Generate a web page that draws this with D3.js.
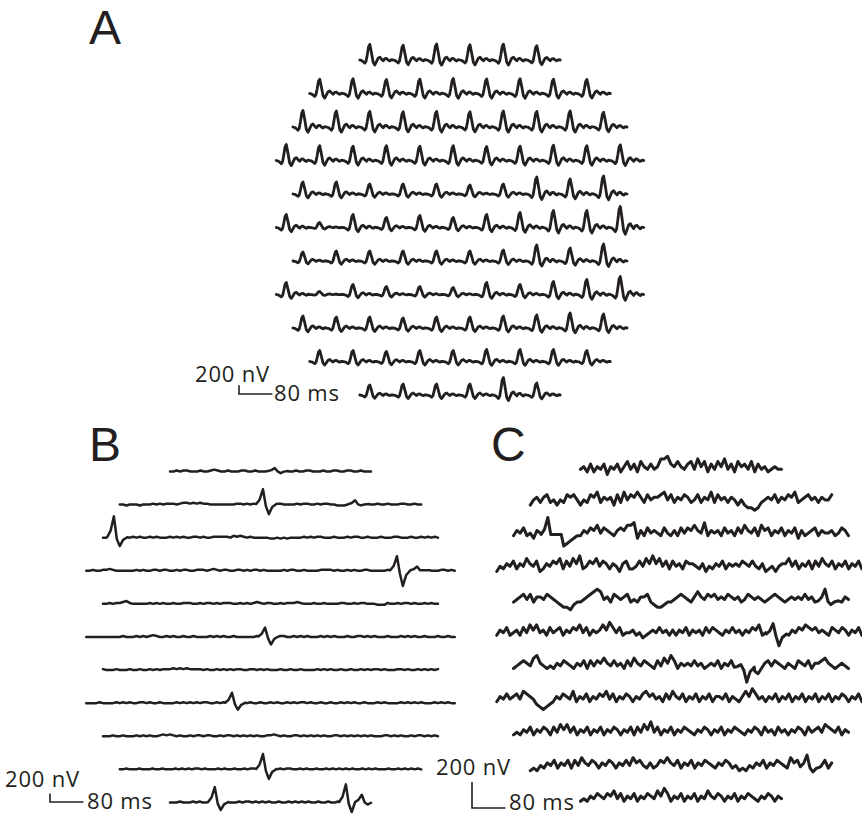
<!DOCTYPE html>
<html>
<head>
<meta charset="utf-8">
<script src="https://cdn.jsdelivr.net/npm/d3@7"></script>
<style>
  body { margin: 0; background: #fff; }
  svg text { font-family: "Open Sans", "Noto Sans", sans-serif; fill: #231f20; }
</style>
</head>
<body>
<svg id="chart" width="862" height="815"></svg>
<script>
// ---- Stimulus layout: 103 hexagons, 11 rows ----
const hexCounts = [6, 9, 10, 11, 10, 11, 10, 11, 10, 9, 6];
const hexDurationMs = 80;

// ---- Panel A: averaged first-order response per hexagon ----
const responseTimesMs = [0, 4, 8, 12, 15, 18, 21, 24, 28, 32, 36, 40, 44, 48, 52, 56, 60, 64, 68, 72, 76, 80];
const responseShape   = [0, -0.03, -0.1, -0.2, -0.08, 0.35, 0.85, 1.0, 0.45, -0.15, -0.32, -0.1, 0.12, 0.18, 0.05, -0.05, 0.08, 0.1, 0.0, -0.06, 0.02, 0];
// P1 amplitude (nV) of each hexagon, row by row
const p1AmplitudeA = [
  [360, 340, 370, 350, 365, 330],
  [330, 340, 320, 330, 345, 335, 340, 330, 325],
  [380, 370, 360, 350, 360, 350, 370, 360, 370, 340],
  [370, 340, 330, 340, 330, 340, 320, 330, 350, 340, 360],
  [276, 276, 230, 230, 230, 207, 230, 391, 345, 414],
  [300, 115, 300, 230, 276, 230, 300, 345, 391, 391, 483],
  [207, 230, 230, 230, 230, 230, 253, 368, 300, 391],
  [276, 70, 230, 184, 184, 161, 276, 230, 300, 345, 414],
  [276, 253, 253, 230, 253, 253, 276, 300, 345, 322],
  [253, 253, 230, 253, 253, 276, 276, 276, 253],
  [230, 253, 253, 253, 400, 276]
];

// ---- Panels B and C: baseline level per sample (digit d -> (d - 4.5) * step nV) ----
const noiseStepB = 22;
const noiseB = [
  "445455444544565445444554454445545654454455444544554455445444",
  "4434443444545455545665656554444444455454545544555444454554454554433343443444454454445544544",
  "44544454454544545444545454455454455555465654544444334343444454545544454445455445444544455444544545454",
  "445445565444444545445545544545544555456545544554545545444445455445444455554544545445544444545454454455544455454",
  "44545567544444545454454455544545545455544545456545544545556544454454444554454554443335445455454454544",
  "444444444445444545456544545445445444454545445444444545445455445454544454545444544554545444544454545445444544544",
  "54445444544544545455565656555545445454545544554545444544544544445454544544544545455454445545445454545",
  "444454444545454455454454444545454545544545444545454454454544545455454454454454545445444545444454545454445454544",
  "44454454445454544565654544545545544545545454545445565454455454545454455454545454544455454544545545454",
  "445444544454454445454545545444545445445455454545454554454544544545454545445454544454454545454",
  "44454445454445454544454554545454454454545454454454454544545445"
];
const noiseStepC = 20;
const noiseC = [
  "4536354625463574637546458896575467485736475846375647364534544",
  "3564674535476753547684656374857686475667857465764574658475646535322124565746576845675646557",
  "46574536585201101234465768576546768893647565475464757686594656475647586574867465746573645674655645764",
  "3546574658657346576847586945768576465367445758696857475647665463546574656576575463453566857465747586574657465747",
  "45675746657654322134456789856476567454667432234456765468657675657656457656545676545656575646556546465",
  "4657456475868564756746576857465686975745564534565756464657465647576546575646576845665435465768767565476576465746",
  "45676589654546576546574757686575647586576547586974656575645657465746565432467576546547657466786545654",
  "4657567587653212346576584657465768574657646578675647586574657465746657465468697564657465746574657465746576465746",
  "45465746576475868574657465746576465747586957465746576546576465746576546576475647564657647567587657465",
  "34354657465747586576465764657586754645768657465746576546576453435465746576548675657465746",
  "4546576576857465746576586974657465746586576465746576546576465"
];

// ---- Focal responses: peak time (ms from row start), upward and downward deflection (nV) ----
const spikeTimesMs   = [-16, -8, 0, 7, 14, 22, 32];
const spikeUpShape   = [0, 0.3, 1, 0, 0, 0, 0];
const spikeDownShape = [0, 0, 0, -0.2, -1, -0.3, 0];
const spikesB = [
  { row: 0, t: 250, up: 70, down: 50 },
  { row: 1, t: 342, up: 350, down: 235 },
  { row: 1, t: 562, up: 90, down: 30 },
  { row: 2, t: 26, up: 490, down: 210 },
  { row: 3, t: 742, up: 330, down: 370 },
  { row: 3, t: 790, up: 90, down: 0 },
  { row: 5, t: 427, up: 210, down: 190 },
  { row: 7, t: 348, up: 235, down: 165 },
  { row: 9, t: 342, up: 350, down: 235 },
  { row: 10, t: 107, up: 350, down: 190 },
  { row: 10, t: 420, up: 415, down: 235 },
  { row: 10, t: 458, up: 170, down: 60 }
];
const spikesC = [
  { row: 2, t: 82, up: 130, down: 0 },
  { row: 4, t: 744, up: 90, down: 30 },
  { row: 5, t: 660, up: 80, down: 90 },
  { row: 6, t: 543, up: 20, down: 115 },
  { row: 9, t: 661, up: 90, down: 40 }
];

// ---- Drawing ----
const ink = "#231f20";
const svg = d3.select("#chart");

const panels = {
  A: { cx: 460, y0: 60, dy: 33.5, px80: 33.4, px200: 8.7, stroke: 2.8 },
  B: { cx: 270.5, y0: 471, dy: 33.1, px80: 33.5, px200: 8.5, stroke: 2.5 },
  C: { cx: 681, y0: 468, dy: 33.2, px80: 33.5, px200: 26, stroke: 3.0 }
};

function rowScales(p, r) {
  const n = hexCounts[r];
  const dur = n * hexDurationMs;
  const half = n * p.px80 / 2;
  const x = d3.scaleLinear().domain([0, dur]).range([p.cx - half, p.cx + half]);
  const yBase = p.y0 + r * p.dy;
  const y = d3.scaleLinear().domain([0, 200]).range([yBase, yBase - p.px200]);
  return { x, y, dur };
}

function drawRow(g, p, r, pts) {
  const s = rowScales(p, r);
  const line = d3.line().x(d => s.x(d.t)).y(d => s.y(d.v));
  g.append("path")
    .attr("d", line(pts))
    .attr("fill", "none")
    .attr("stroke", ink)
    .attr("stroke-width", p.stroke)
    .attr("stroke-linejoin", "round")
    .attr("stroke-linecap", "round");
}

// Panel A traces
const gA = svg.append("g");
hexCounts.forEach((n, r) => {
  const pts = [];
  for (let k = 0; k < n; k++) {
    responseTimesMs.forEach((tm, j) => {
      if (j === responseTimesMs.length - 1 && k < n - 1) return;
      pts.push({ t: k * hexDurationMs + tm, v: p1AmplitudeA[r][k] * responseShape[j] });
    });
  }
  drawRow(gA, panels.A, r, pts);
});

// Panels B and C traces
function drawNoisyPanel(p, noise, step, spikes) {
  const g = svg.append("g");
  hexCounts.forEach((n, r) => {
    const dur = n * hexDurationMs;
    const digits = noise[r].split("").map(Number);
    const dt = dur / (digits.length - 1);
    const rowSpikes = spikes.filter(s => s.row === r);
    let pts = digits.map((d, i) => ({ t: i * dt, v: (d - 4.5) * step }));
    rowSpikes.forEach(sp => {
      const lo = sp.t + spikeTimesMs[0], hi = sp.t + spikeTimesMs[spikeTimesMs.length - 1];
      pts = pts.filter(q => q.t < lo || q.t > hi);
      spikeTimesMs.forEach((tm, m) => {
        const t = sp.t + tm;
        if (t >= 0 && t <= dur) {
          pts.push({ t, v: sp.up * spikeUpShape[m] + sp.down * spikeDownShape[m] });
        }
      });
    });
    pts.sort((a, b) => a.t - b.t);
    drawRow(g, p, r, pts);
  });
}
drawNoisyPanel(panels.B, noiseB, noiseStepB, spikesB);
drawNoisyPanel(panels.C, noiseC, noiseStepC, spikesC);

// Scale bars: 200 nV vertical, 80 ms horizontal
function scaleBar(p, x0, y0, lab200, lab80) {
  const g = svg.append("g");
  const xs = d3.scaleLinear().domain([0, hexDurationMs]).range([x0, x0 + p.px80]);
  const ys = d3.scaleLinear().domain([0, 200]).range([y0, y0 - p.px200]);
  g.append("path")
    .attr("d", `M${xs(0)},${ys(200)}V${ys(0)}H${xs(80)}`)
    .attr("fill", "none").attr("stroke", ink).attr("stroke-width", 1.6);
  g.append("text").attr("x", lab200[0]).attr("y", lab200[1])
    .attr("font-size", 22).attr("letter-spacing", 0.8).text("200 nV");
  g.append("text").attr("x", lab80[0]).attr("y", lab80[1])
    .attr("font-size", 22).attr("letter-spacing", 0.8).text("80 ms");
}
scaleBar(panels.A, 239, 394, [195, 382], [274, 401]);
scaleBar(panels.B, 50, 802, [5, 787], [87, 809]);
scaleBar(panels.C, 472, 808, [436, 775], [509, 810]);

// Panel letters
[["A", 89, 44], ["B", 89, 461], ["C", 491, 461]].forEach(([t, x, y]) => {
  svg.append("text").attr("x", x).attr("y", y)
    .style("font-family", '"Liberation Sans", Arimo, sans-serif')
    .attr("font-size", 48).text(t);
});
</script>
</body>
</html>
